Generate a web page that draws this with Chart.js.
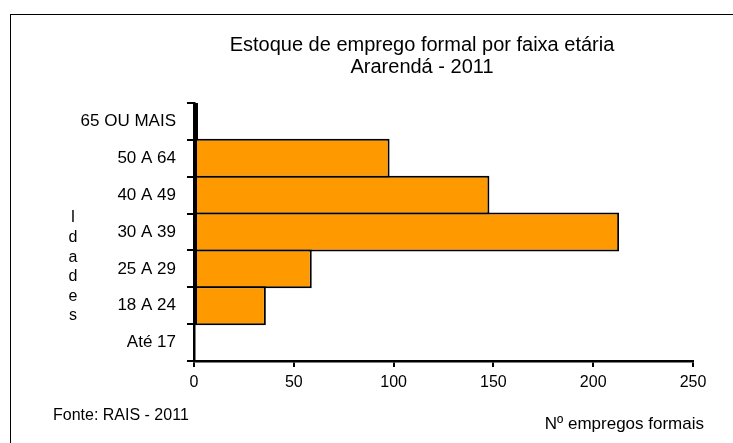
<!DOCTYPE html>
<html><head><meta charset="utf-8">
<script src="https://cdn.jsdelivr.net/npm/chart.js@4"></script>
<style>html,body{margin:0;padding:0;background:#fff}</style>
</head><body>
<canvas id="c" width="733" height="443"></canvas>
<script>
const categories = ['65 OU MAIS','50 A 64','40 A 49','30 A 39','25 A 29','18 A 24','Até 17'];
const values = [2, 98, 148, 213, 59, 36, 0];
const xTicks = [0, 50, 100, 150, 200, 250];
const titleLines = ['Estoque de emprego formal por faixa etária', 'Ararendá - 2011'];
const yAxisTitle = 'Idades';
const sourceNote = 'Fonte: RAIS - 2011';
const xAxisTitle = 'Nº empregos formais';

const FONT = 'Arial, "Liberation Sans", sans-serif';

const textPlugin = {
  id: 'texts',
  beforeDraw(chart) {
    const ctx = chart.ctx;
    ctx.save();
    ctx.fillStyle = '#fff';
    ctx.fillRect(0, 0, chart.width, chart.height);
    ctx.strokeStyle = '#000';
    ctx.lineWidth = 1;
    ctx.strokeRect(10.5, 14.5, 1000, 1000);
    ctx.restore();
  },
  afterDraw(chart) {
    const ctx = chart.ctx;
    ctx.save();
    ctx.fillStyle = '#000';
    ctx.textAlign = 'center';
    ctx.textBaseline = 'middle';
    ctx.font = '20px ' + FONT;
    ctx.fillText(titleLines[0], 422, 45);
    ctx.fillText(titleLines[1], 422, 67);
    ctx.font = '16px ' + FONT;
    const letters = yAxisTitle.split('');
    letters.forEach((ch, i) => ctx.fillText(ch, 73, 218 + i * 19.6));
    ctx.textAlign = 'left';
    ctx.fillText(sourceNote, 53, 416);
    ctx.font = '17px ' + FONT;
    ctx.textAlign = 'right';
    ctx.fillText(xAxisTitle, 704, 424);
    ctx.restore();
  }
};

new Chart(document.getElementById('c'), {
  type: 'bar',
  data: {
    labels: categories,
    datasets: [{
      data: values,
      backgroundColor: '#FF9900',
      borderColor: '#000',
      borderWidth: 2,
      borderSkipped: false,
      barPercentage: 1.054,
      categoryPercentage: 1
    }]
  },
  options: {
    indexAxis: 'y',
    responsive: false,
    animation: false,
    devicePixelRatio: 1,
    layout: { padding: { left: 0, top: 103, right: 40, bottom: 32 } },
    plugins: { legend: { display: false }, tooltip: { enabled: false }, title: { display: false } },
    scales: {
      x: {
        min: xTicks[0], max: xTicks[xTicks.length - 1],
        afterBuildTicks(scale) { scale.ticks = xTicks.map(v => ({ value: v })); },
        afterFit(scale) { scale.height = 50; },
        border: { color: '#000', width: 2.5 },
        grid: { drawOnChartArea: false, drawTicks: true, tickLength: 6, color: '#000', lineWidth: 2 },
        ticks: { color: '#000', padding: 6, font: { family: FONT, size: 16 } }
      },
      y: {
        afterFit(scale) { scale.width = 194; },
        border: { color: '#000', width: 2.5 },
        grid: { offset: true, drawOnChartArea: false, drawTicks: true, tickLength: 7, color: '#000', lineWidth: 2 },
        ticks: { color: '#000', padding: 11, font: { family: FONT, size: 17 } }
      }
    }
  },
  plugins: [textPlugin]
});
</script>
</body></html>
